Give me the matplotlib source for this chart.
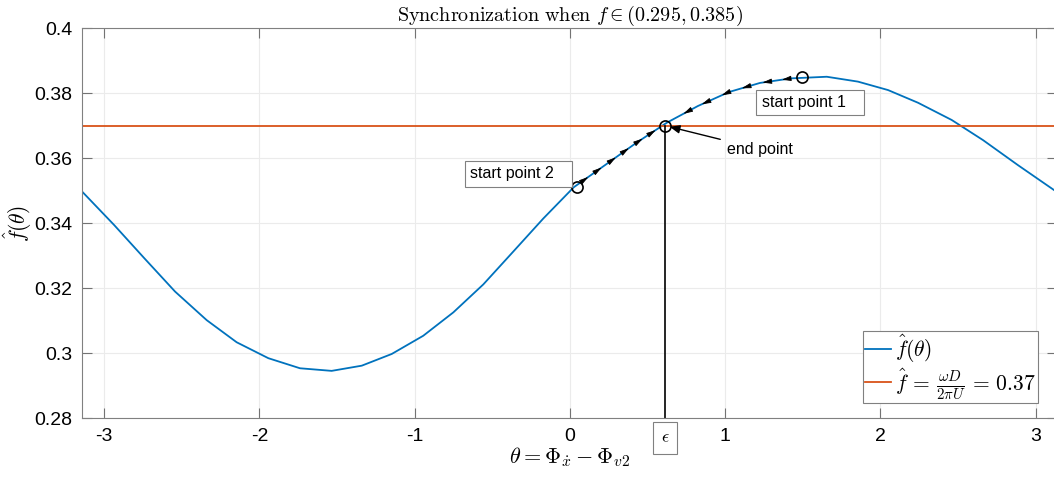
import numpy as np
import matplotlib
matplotlib.use("Agg")
import matplotlib.pyplot as plt

plt.rcParams['mathtext.fontset'] = 'cm'
plt.rcParams['font.family'] = ['Liberation Sans', 'DejaVu Sans']

# curve vertices
theta = [-3.1416, -2.937, -2.741, -2.544, -2.340, -2.147, -1.943, -1.739, -1.535,
         -1.341, -1.148, -0.945, -0.751, -0.558, -0.365, -0.171, 0.025, 0.226,
         0.426, 0.626, 0.825, 1.025, 1.225, 1.425, 1.655, 1.856, 2.050, 2.243,
         2.460, 2.662, 2.887, 3.1416]
f_hat = [0.3497, 0.3395, 0.3292, 0.3190, 0.3102, 0.3034, 0.2985, 0.2954, 0.2946,
         0.2962, 0.2998, 0.3054, 0.3126, 0.3212, 0.3313, 0.3415, 0.3511, 0.3579,
         0.3647, 0.3710, 0.3761, 0.3804, 0.3832, 0.3846, 0.3851, 0.3836, 0.3810,
         0.3771, 0.3718, 0.3656, 0.3579, 0.3495]
f_level = 0.37

start1 = (1.497, 0.3851)
start2 = (0.044, 0.3511)
end_pt = (0.613, 0.3700)

# arrow positions along the trajectories
arrows2 = [0.119, 0.205, 0.297, 0.381, 0.469, 0.553]
arrows1 = [1.365, 1.240, 1.107, 0.978, 0.849, 0.731]

blue = '#0072BD'
orange = '#D95319'

fig = plt.figure(figsize=(10.54, 4.8), dpi=100)
ax = fig.add_axes([0.0781, 0.1285, 0.9252, 0.8125])

ax.plot(theta, f_hat, color=blue, lw=1.3, label=r'$\hat{f}(\theta)$')
ax.axhline(f_level, color=orange, lw=1.3,
           label=r'$\hat{f}\,=\,\frac{\omega D}{2\pi U}\,=\,0.37$')

# vertical line down from the end point
ax.plot([end_pt[0], end_pt[0]], [0.28, end_pt[1]], color='k', lw=1.2)

# circles
for p in (start1, start2, end_pt):
    ax.plot(p[0], p[1], 'o', mfc='none', mec='k', ms=8, mew=1.2)

# arrow heads along the curve
def head(t, direction):
    d = 0.02 * direction
    y0 = np.interp(t - d, theta, f_hat)
    y1 = np.interp(t, theta, f_hat)
    ax.annotate('', xy=(t, y1), xytext=(t - d, y0),
                arrowprops=dict(arrowstyle='-|>,head_length=0.8,head_width=0.22',
                                color='k', lw=0.6, mutation_scale=7,
                                shrinkA=0, shrinkB=0))

for t in arrows2:
    head(t, 1)
for t in arrows1:
    head(t, -1)

box = dict(boxstyle='square,pad=0.32', fc='white', ec='0.5', lw=0.8)
ax.text(-0.645, 0.3552, 'start point 2   ', fontsize=11.5, ha='left', va='center', bbox=box)
ax.text(1.235, 0.3771, 'start point 1   ', fontsize=11.5, ha='left', va='center', bbox=box)
ax.annotate('end point', xy=(end_pt[0] + 0.03, end_pt[1] - 0.0003),
            xytext=(1.013, 0.3628), fontsize=11.5, ha='left', va='center',
            arrowprops=dict(arrowstyle='-|>,head_length=0.6,head_width=0.25',
                            color='k', lw=1.0, mutation_scale=10,
                            shrinkA=3, shrinkB=0))

# epsilon box under the axis
ax.text(0.585, -0.05, r'$\epsilon\ \ \ \ \ $', transform=ax.get_xaxis_transform(),
        fontsize=13, ha='left', va='center',
        bbox=dict(boxstyle='square,pad=0.4', fc='white', ec='0.5', lw=0.8),
        clip_on=False)

ax.set_xlim(-np.pi, np.pi)
ax.set_ylim(0.28, 0.4)
xt = [-3, -2, -1, 0, 1, 2, 3]
yt = [0.28, 0.3, 0.32, 0.34, 0.36, 0.38, 0.4]
ax.set_xticks(xt)
ax.set_xticklabels([str(v) for v in xt])
ax.set_yticks(yt)
ax.set_yticklabels(['%g' % v for v in yt])
ax.tick_params(direction='in', length=7, width=0.8, color='0.45',
               labelsize=14, top=True, right=True, pad=7)
ax.grid(True, color='0.92', lw=0.8)
ax.set_axisbelow(True)
for s in ax.spines.values():
    s.set_color('0.5')
    s.set_linewidth(0.8)

ax.set_title(r'$\mathrm{Synchronization\ when}\ f \in (0.295, 0.385)$',
             fontsize=14.5, pad=5)
ax.set_xlabel(r'$\theta = \Phi_{\dot{x}} - \Phi_{v2}$', fontsize=16, labelpad=0)
ax.set_ylabel(r'$\hat{f}(\theta)$', fontsize=15.5, labelpad=0)

leg = ax.legend(loc='lower right', bbox_to_anchor=(1038.3 / 1054, (480 - 402.7) / 480),
                bbox_transform=fig.transFigure, fontsize=15.5, handlelength=1.2,
                handletextpad=0.2, borderpad=0.1, labelspacing=0.05,
                fancybox=False, framealpha=1, edgecolor='0.5', borderaxespad=0)
leg.get_frame().set_linewidth(0.8)

fig.savefig('out.png', dpi=100)
